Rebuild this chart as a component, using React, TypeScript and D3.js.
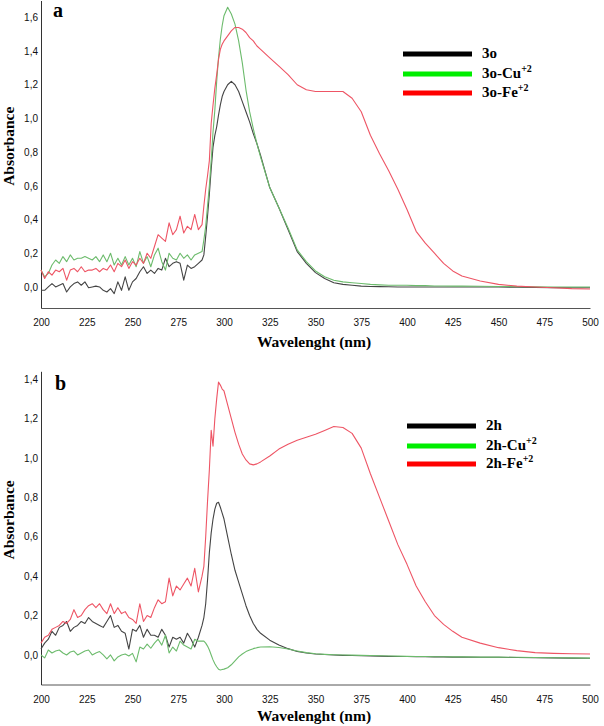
import { useEffect, useRef } from 'react';
import * as d3 from 'd3';

// wavelength grid (nm) shared by all spectra
const wavelength = [
  200, 202, 204, 206, 208, 210, 212, 214, 216, 218,
  220, 222, 224, 226, 228, 230, 232, 234, 236, 238,
  240, 242, 244, 246, 248, 250, 252, 254, 256, 258,
  260, 262, 264, 266, 268, 270, 272, 274, 276, 278,
  280, 282, 284, 286, 288,
  289, 290, 291, 292, 293, 294, 295, 296, 297, 298, 299, 300,
  302, 304, 306, 308, 310, 312, 314, 316, 318, 320,
  325, 330, 335, 340, 345, 350, 355, 360, 365, 370, 375, 380, 385, 390, 395, 400, 405, 410, 415, 420, 425, 430,
  440, 450, 460, 470, 480, 490, 500,
];

// panel a
const abs3o = [
  -0.02, -0.02, 0.0, 0.02, 0.0, 0.01, 0.02, -0.03, 0.0, 0.02,
  0.03, 0.01, 0.03, -0.005, 0.0, 0.005, 0.0, -0.02, -0.03, -0.01,
  -0.04, 0.03, -0.02, 0.06, -0.02, 0.03, 0.05, 0.09, 0.12, 0.08,
  0.1, 0.08, 0.11, 0.1, 0.17, 0.12, 0.14, 0.15, 0.14, 0.04,
  0.13, 0.11, 0.12, 0.14, 0.16,
  0.19, 0.3, 0.42, 0.55, 0.7, 0.83, 0.9, 0.95, 1.02, 1.08, 1.13, 1.16,
  1.2, 1.22, 1.2, 1.16, 1.1, 1.04, 0.98, 0.91, 0.85, 0.78,
  0.59, 0.47, 0.34, 0.21, 0.14, 0.085, 0.05, 0.025, 0.015, 0.01, 0.005, 0.003, 0.002, 0.001, 0.0, 0.0, 0.0, 0.0, 0.0, 0.0, 0.0, 0.0,
  0.0, 0.0, -0.002, -0.003, -0.004, -0.005, -0.005,
];
const abs3oCu = [
  0.1, 0.06, 0.08, 0.13, 0.16, 0.14, 0.18, 0.15, 0.19, 0.16,
  0.17, 0.17, 0.18, 0.17, 0.16, 0.18, 0.15, 0.19, 0.15, 0.2,
  0.13, 0.17, 0.13, 0.18, 0.13, 0.17, 0.12, 0.21, 0.14, 0.18,
  0.12, 0.19, 0.23, 0.15, 0.1, 0.2, 0.17, 0.16, 0.2, 0.17,
  0.19, 0.16, 0.19, 0.2, 0.21,
  0.28, 0.36, 0.48, 0.6, 0.75, 0.92, 1.05, 1.22, 1.36, 1.47, 1.55, 1.61,
  1.66, 1.62, 1.56, 1.46, 1.33, 1.17, 1.04, 0.94, 0.85, 0.77,
  0.59, 0.47, 0.35, 0.22, 0.15, 0.095, 0.06, 0.04, 0.03, 0.025, 0.02, 0.015, 0.012, 0.01, 0.01, 0.01, 0.008, 0.008, 0.006, 0.006, 0.005, 0.005,
  0.004, 0.003, 0.002, 0.001, 0.0, 0.0, 0.0,
];
const abs3oFe = [
  0.1, 0.05, 0.09, 0.07, 0.1, 0.09, 0.11, 0.04, 0.1, 0.11,
  0.09, 0.12, 0.09, 0.1, 0.1, 0.11, 0.09, 0.11, 0.1, 0.13,
  0.09, 0.14, 0.12, 0.16, 0.11, 0.15, 0.13, 0.17, 0.14, 0.2,
  0.17, 0.24, 0.31, 0.29, 0.27, 0.38, 0.31, 0.34, 0.42, 0.32,
  0.36, 0.34, 0.43, 0.34, 0.37,
  0.48, 0.58, 0.66, 0.75, 0.97, 1.08, 1.18, 1.26, 1.35, 1.41, 1.44, 1.46,
  1.49, 1.52, 1.54, 1.54, 1.53, 1.51, 1.48, 1.46, 1.43, 1.41,
  1.36, 1.31, 1.26, 1.2, 1.17, 1.16, 1.16, 1.16, 1.16, 1.12, 1.04, 0.9, 0.79, 0.69, 0.58, 0.46, 0.33, 0.26, 0.2, 0.14, 0.095, 0.065,
  0.035, 0.015, 0.005, 0.0, -0.005, -0.01, -0.012,
];

// panel b
const abs2h = [
  0.03, 0.06, 0.08, 0.12, 0.1, 0.14, 0.15, 0.17, 0.12, 0.14,
  0.15, 0.17, 0.16, 0.19, 0.17, 0.16, 0.15, 0.14, 0.17, 0.2,
  0.14, 0.15, 0.12, 0.11, 0.03, 0.13, 0.12, 0.15, 0.09, 0.13,
  0.1, 0.1, 0.09, 0.13, 0.1, 0.04, 0.09, 0.08, 0.09, 0.06,
  0.11, 0.08, 0.04, 0.09, 0.15,
  0.19, 0.26, 0.38, 0.52, 0.62, 0.69, 0.74, 0.77, 0.775, 0.75, 0.72, 0.69,
  0.6, 0.51, 0.43, 0.37, 0.31, 0.25, 0.2, 0.16, 0.13, 0.11,
  0.075, 0.05, 0.032, 0.018, 0.01, 0.005, 0.002, 0.0, -0.002, -0.003, -0.004, -0.005, -0.006, -0.007, -0.008, -0.008, -0.009, -0.009, -0.01, -0.01, -0.011, -0.011,
  -0.012, -0.012, -0.013, -0.014, -0.015, -0.016, -0.017,
];
const abs2hCu = [
  0.0, -0.015, 0.025, 0.01, 0.02, 0.025, 0.01, 0.0, 0.015, 0.02,
  0.0, 0.01, 0.02, 0.025, 0.0, 0.01, 0.017, 0.0, -0.02, 0.0,
  -0.03, -0.01, 0.0, 0.005, -0.005, 0.008, -0.035, 0.04, 0.03, 0.055,
  0.034, 0.06, 0.08, 0.05, 0.1, 0.01, 0.04, 0.02, 0.07, 0.05,
  0.04, 0.03, 0.08, 0.07, 0.07,
  0.07, 0.06, 0.045, 0.025, 0.0, -0.025, -0.045, -0.06, -0.072, -0.076, -0.074, -0.072,
  -0.065, -0.05, -0.03, -0.01, 0.005, 0.017, 0.025, 0.032, 0.037, 0.04,
  0.042, 0.038, 0.03, 0.02, 0.012, 0.006, 0.003, 0.001, 0.0, -0.001, -0.002, -0.003, -0.004, -0.005, -0.006, -0.007, -0.008, -0.008, -0.009, -0.009, -0.01, -0.01,
  -0.011, -0.011, -0.012, -0.013, -0.014, -0.015, -0.016,
];
const abs2hFe = [
  0.06, 0.09, 0.1, 0.13, 0.14, 0.15, 0.17, 0.16, 0.18, 0.23,
  0.19, 0.2, 0.23, 0.25, 0.26, 0.24, 0.26, 0.23, 0.21, 0.26,
  0.21, 0.24, 0.21, 0.22, 0.19, 0.18, 0.16, 0.26, 0.17, 0.2,
  0.19, 0.24, 0.28, 0.26, 0.27, 0.39, 0.3, 0.35, 0.33, 0.36,
  0.39, 0.35, 0.44, 0.32, 0.4,
  0.45, 0.6, 0.78, 0.94, 1.14, 1.06, 1.2, 1.3, 1.385, 1.37, 1.35, 1.34,
  1.27, 1.2, 1.13, 1.07, 1.02, 0.99, 0.97, 0.965, 0.97, 0.98,
  1.01, 1.045, 1.07, 1.09, 1.105, 1.12, 1.14, 1.16, 1.155, 1.125, 1.05, 0.92, 0.8, 0.68, 0.56, 0.46, 0.35, 0.27, 0.2, 0.155, 0.12, 0.09,
  0.06, 0.037, 0.022, 0.012, 0.008, 0.006, 0.005,
];

const xTicks = [200, 225, 250, 275, 300, 325, 350, 375, 400, 425, 450, 475, 500];
const yTicksA = [0, 0.2, 0.4, 0.6, 0.8, 1.0, 1.2, 1.4, 1.6];
const yTicksB = [0, 0.2, 0.4, 0.6, 0.8, 1.0, 1.2, 1.4];

const curveColors = ['#444444', '#6cbb6c', '#ee5565'];
const legendColors = ['#000000', '#00ee00', '#ff0000'];

const serif = '"Times New Roman", "Liberation Serif", serif';

export default function App() {
  const svgRef = useRef<SVGSVGElement>(null);

  useEffect(() => {
    if (!svgRef.current) return;
    const svg = d3.select(svgRef.current);
    svg.selectAll('*').remove();

    const fmt = (d: number) => d3.format('.1f')(d).replace('.', ',');

    const drawPanel = (opts: any) => {
      const { top, bottom, domain, yTicks, series, names, letter, legendY, legendX, titleY } = opts;
      const x = d3.scaleLinear().domain([200, 500]).range([41, 590]);
      const y = d3.scaleLinear().domain(domain).range([bottom, top]);
      const g = svg.append('g');

      g.append('g')
        .attr('transform', `translate(0,${bottom})`)
        .call(d3.axisBottom(x).tickValues(xTicks).tickSize(0).tickPadding(11).tickFormat(d => String(d)))
        .call(s => s.select('.domain').attr('stroke', '#555'))
        .selectAll('text')
        .style('font-family', 'Arial, "Liberation Sans", sans-serif')
        .style('font-size', '10px')
        .attr('fill', '#111');

      g.append('g')
        .attr('transform', 'translate(41,0)')
        .call(d3.axisLeft(y).tickValues(yTicks).tickSize(0).tickPadding(3).tickFormat(d => fmt(d as number)))
        .call(s => s.select('.domain').attr('stroke', '#333'))
        .selectAll('text')
        .style('font-family', 'Arial, "Liberation Sans", sans-serif')
        .style('font-size', '10px')
        .attr('fill', '#111');

      const line = d3.line<number>()
        .x((_, i) => x(wavelength[i]))
        .y(d => y(d));

      series.forEach((vals: number[], i: number) => {
        g.append('path')
          .datum(vals)
          .attr('d', line)
          .attr('fill', 'none')
          .attr('stroke', curveColors[i])
          .attr('stroke-width', 1.1)
          .attr('stroke-linejoin', 'round');
      });

      // legend
      names.forEach((name: string[], i: number) => {
        const ly = legendY[i];
        g.append('line')
          .attr('x1', legendX).attr('x2', legendX + 69)
          .attr('y1', ly).attr('y2', ly)
          .attr('stroke', legendColors[i])
          .attr('stroke-width', 5);
        const t = g.append('text')
          .attr('x', legendX + 79)
          .attr('y', ly + 4)
          .style('font-family', serif)
          .style('font-weight', 'bold')
          .style('font-size', '15px')
          .attr('fill', '#000');
        t.append('tspan').text(name[0]);
        if (name[1]) {
          t.append('tspan').attr('dy', -6).style('font-size', '10px').text(name[1]);
        }
      });

      g.append('text')
        .attr('x', letter[1])
        .attr('y', letter[2])
        .style('font-family', serif)
        .style('font-weight', 'bold')
        .style('font-size', '20px')
        .text(letter[0]);

      g.append('text')
        .attr('transform', `translate(14,${(top + bottom) / 2 - 8}) rotate(-90)`)
        .attr('text-anchor', 'middle')
        .style('font-family', serif)
        .style('font-weight', 'bold')
        .style('font-size', '15.5px')
        .text('Absorbance');

      g.append('text')
        .attr('x', 314)
        .attr('y', titleY)
        .attr('text-anchor', 'middle')
        .style('font-family', serif)
        .style('font-weight', 'bold')
        .style('font-size', '15.5px')
        .text('Wavelenght (nm)');
    };

    drawPanel({
      top: 0.5, bottom: 308, domain: [-0.125, 1.7], yTicks: yTicksA,
      series: [abs3o, abs3oCu, abs3oFe],
      names: [['3o'], ['3o-Cu', '+2'], ['3o-Fe', '+2']],
      letter: ['a', 53, 17], legendX: 403, legendY: [54, 74, 93], titleY: 347,
    });

    drawPanel({
      top: 371.3, bottom: 684.5, domain: [-0.15, 1.44], yTicks: yTicksB,
      series: [abs2h, abs2hCu, abs2hFe],
      names: [['2h'], ['2h-Cu', '+2'], ['2h-Fe', '+2']],
      letter: ['b', 55, 390], legendX: 407, legendY: [426, 446, 464], titleY: 721,
    });
  }, []);

  return (
    <svg
      ref={svgRef}
      width={604}
      height={726}
      style={{ position: 'absolute', left: 0, top: 0, background: '#fff' }}
    />
  );
}
